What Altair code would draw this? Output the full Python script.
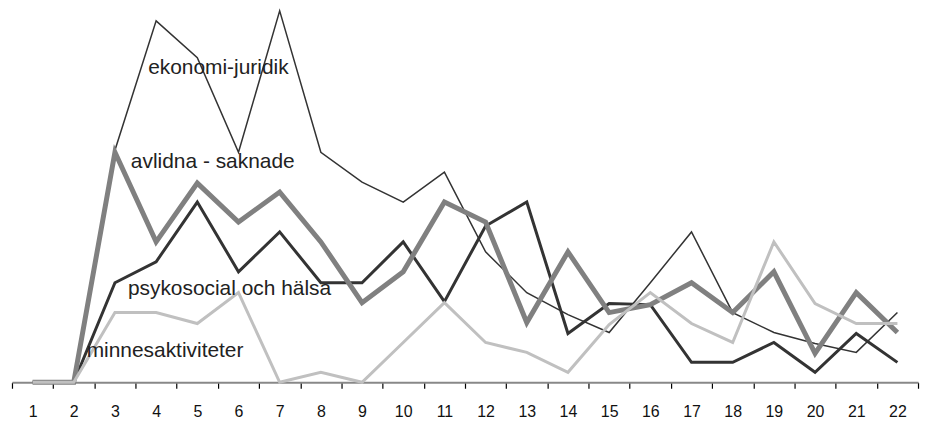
import altair as alt
import pandas as pd

periods = list(range(1, 23))
ekonomi_juridik = [0, 0, 23.3, 36.3, 32.6, 23.1, 37.3, 23.1, 20.1, 18.1, 21.1,
                   13.1, 9.0, 6.8, 5.0, 10.0, 15.1, 7.0, 5.0, 3.9, 3.0, 7.0]
avlidna_saknade = [0, 0, 23.1, 14.1, 20.0, 16.1, 19.1, 14.1, 8.0, 11.1, 18.1,
                   16.1, 6.0, 13.1, 7.0, 7.8, 10.0, 7.0, 11.1, 2.9, 9.0, 5.0]
psykosocial = [0, 0, 10.0, 12.1, 18.1, 11.1, 15.1, 10.0, 10.0, 14.1, 8.1,
               15.7, 18.1, 4.9, 7.9, 7.8, 2.0, 2.0, 4.0, 1.0, 4.9, 2.0]
minnesaktiviteter = [0, 0, 7.0, 7.0, 5.9, 9.0, 0, 1.0, 0, 4.0, 8.0,
                     4.0, 3.0, 1.0, 5.8, 9.0, 5.9, 4.0, 14.1, 7.9, 5.9, 5.9]

series_names = ["ekonomi-juridik", "psykosocial och hälsa", "avlidna - saknade", "minnesaktiviteter"]
series_values = [ekonomi_juridik, psykosocial, avlidna_saknade, minnesaktiviteter]
series_colors = ["#333333", "#333333", "#808080", "#c0c0c0"]
series_widths = [1.5, 3, 5, 3]

label_texts = ["ekonomi-juridik", "avlidna - saknade", "psykosocial och hälsa", "minnesaktiviteter"]
label_x = [4, 3, 3, 2]
label_y = [31.0, 21.5, 8.8, 2.5]
label_dx = [-8, 16, 13, 13]

x_scale = alt.Scale(type="band", paddingInner=0, paddingOuter=0)
y_scale = alt.Scale(domain=[0, 37.5], nice=False, zero=True)

x_axis = alt.Axis(
    title=None, labelAngle=0, tickBand="extent", ticks=True, tickSize=6,
    tickColor="#000000", tickWidth=1.2, tickOpacity=1, domainColor="#888888", domainWidth=2,
    labelFont="Liberation Sans", labelFontSize=16, labelColor="#111111",
    labelPadding=15, grid=False,
)

layers = []
for name, vals, col, w in zip(series_names, series_values, series_colors, series_widths):
    df = pd.DataFrame({"x": periods, "v": vals})
    layers.append(
        alt.Chart(df).mark_line(color=col, strokeWidth=w, strokeJoin="miter", strokeCap="butt").encode(
            x=alt.X("x:O", scale=x_scale, axis=x_axis),
            y=alt.Y("v:Q", scale=y_scale, axis=None),
        )
    )

for t, xx, yy, dx in zip(label_texts, label_x, label_y, label_dx):
    df = pd.DataFrame({"x": [xx], "v": [yy], "t": [t]})
    layers.append(
        alt.Chart(df).mark_text(align="left", baseline="alphabetic", dx=dx,
                                font="Liberation Sans", fontSize=21, color="#222222").encode(
            x=alt.X("x:O", scale=x_scale, axis=x_axis),
            y=alt.Y("v:Q", scale=y_scale, axis=None),
            text="t:N",
        )
    )

chart = alt.layer(*layers).properties(
    width=910, height=375,
    autosize="none",
    padding={"left": 4, "top": 0, "right": 4, "bottom": 42},
).configure_view(stroke=None).configure_axis(ticks=True)

chart.save("out.html", embed_options={"renderer": "svg", "actions": False})
